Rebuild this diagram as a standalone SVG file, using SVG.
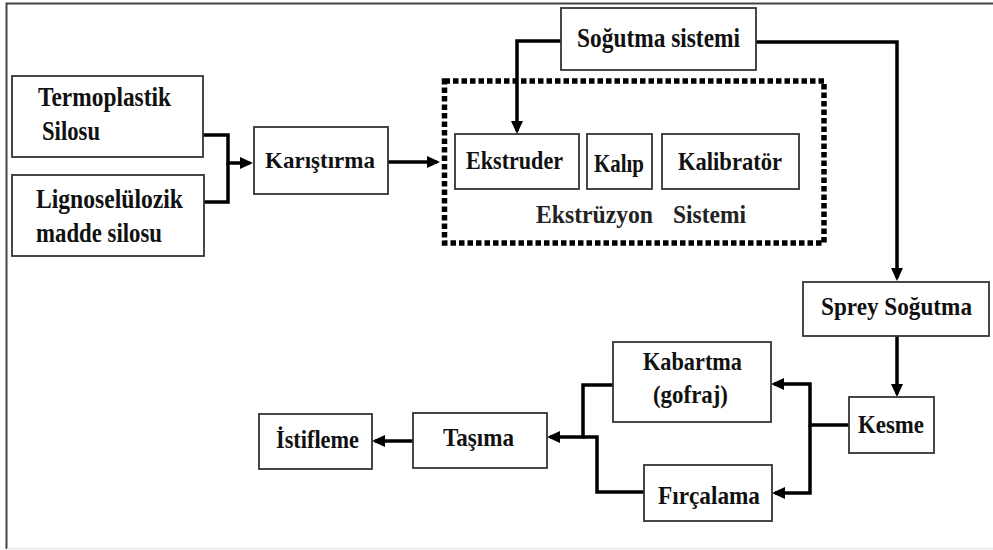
<svg xmlns="http://www.w3.org/2000/svg" width="993" height="550" viewBox="0 0 993 550">
<defs>
<style>
.box{fill:#fff;stroke:#333;stroke-width:1.8}
.t{font-family:"Liberation Serif","Times New Roman",serif;font-weight:bold;fill:#111;font-size:26px}
.c{fill:none;stroke:#000;stroke-width:3.5}
.a{marker-end:url(#ah)}
</style>
<marker id="ah" viewBox="0 0 13 12" refX="10" refY="6" markerWidth="13" markerHeight="12" markerUnits="userSpaceOnUse" orient="auto">
<path d="M0,0 L13,6 L0,12 z" fill="#000"/>
</marker>
</defs>
<rect x="0" y="0" width="993" height="550" fill="#fff"/>
<g id="frame">
<path d="M6.5,549 V3.5 H993" fill="none" stroke="#444" stroke-width="2"/>
<path d="M7,548.5 H993" fill="none" stroke="#e4e4e4" stroke-width="1.5"/>
</g>
<g id="connectors">
<path class="c a" d="M203,135 H228 V163 H250"/>
<path class="c" d="M204,202 H228 V163"/>
<path class="c a" d="M388,162 H437"/>
<path class="c a" d="M561,41 H517 V131"/>
<path class="c a" d="M756,42 H897 V278"/>
<path class="c a" d="M897,336 V394"/>
<path class="c a" d="M849,425 H810 V384 H774"/>
<path class="c a" d="M810,425 V493 H775"/>
<path class="c a" d="M613,385 H583 V437 H550"/>
<path class="c" d="M644,492 H597 V437 H583"/>
<path class="c a" d="M413,441 H375"/>
</g>
<g id="ekstruzyon-sistemi">
<rect x="444.5" y="81" width="379.5" height="162" fill="none" stroke="#000" stroke-width="5.5" stroke-dasharray="5.5 3"/>
<text class="t" y="223" style="fill:#222"><tspan x="536" textLength="117" lengthAdjust="spacingAndGlyphs">Ekstrüzyon</tspan><tspan x="673" textLength="73" lengthAdjust="spacingAndGlyphs">Sistemi</tspan></text>
</g>
<g id="termoplastik">
<rect class="box" x="12" y="76" width="191" height="81"/>
<text class="t" style="font-size:28px" x="38" y="106" textLength="133" lengthAdjust="spacingAndGlyphs">Termoplastik</text>
<text class="t" style="font-size:28px" x="42" y="140" textLength="58" lengthAdjust="spacingAndGlyphs">Silosu</text>
</g>
<g id="lignoselulozik">
<rect class="box" x="12" y="175" width="192" height="81"/>
<text class="t" style="font-size:27px" x="36" y="208" textLength="147" lengthAdjust="spacingAndGlyphs">Lignoselülozik</text>
<text class="t" style="font-size:27px" x="36" y="242" textLength="126" lengthAdjust="spacingAndGlyphs">madde silosu</text>
</g>
<g id="karistirma">
<rect class="box" x="254" y="127" width="134" height="67"/>
<text class="t" style="font-size:23px" x="265" y="168" textLength="110" lengthAdjust="spacingAndGlyphs">Karıştırma</text>
</g>
<g id="sogutma-sistemi">
<rect class="box" x="561" y="8" width="195" height="62"/>
<text class="t" style="font-size:28px" x="577" y="47" textLength="163" lengthAdjust="spacingAndGlyphs">Soğutma sistemi</text>
</g>
<g id="ekstruder">
<rect class="box" x="455" y="134" width="124" height="55"/>
<text class="t" x="466" y="169" textLength="97" lengthAdjust="spacingAndGlyphs">Ekstruder</text>
</g>
<g id="kalip">
<rect class="box" x="587" y="134" width="65" height="55"/>
<text class="t" x="594" y="172" textLength="50" lengthAdjust="spacingAndGlyphs">Kalıp</text>
</g>
<g id="kalibrator">
<rect class="box" x="662" y="134" width="137" height="55"/>
<text class="t" x="678" y="170" textLength="104" lengthAdjust="spacingAndGlyphs">Kalibratör</text>
</g>
<g id="sprey-sogutma">
<rect class="box" x="803" y="282" width="186" height="54"/>
<text class="t" x="821" y="315" textLength="151" lengthAdjust="spacingAndGlyphs">Sprey Soğutma</text>
</g>
<g id="kesme">
<rect class="box" x="849" y="397" width="85" height="56"/>
<text class="t" x="858" y="433" textLength="66" lengthAdjust="spacingAndGlyphs">Kesme</text>
</g>
<g id="kabartma">
<rect class="box" x="613" y="342" width="158" height="80"/>
<text class="t" x="643" y="370" textLength="99" lengthAdjust="spacingAndGlyphs">Kabartma</text>
<text class="t" x="653" y="403" textLength="75" lengthAdjust="spacingAndGlyphs">(gofraj)</text>
</g>
<g id="fircalama">
<rect class="box" x="644" y="465" width="128" height="56"/>
<text class="t" x="658" y="504" textLength="102" lengthAdjust="spacingAndGlyphs">Fırçalama</text>
</g>
<g id="tasima">
<rect class="box" x="413" y="413" width="134" height="55"/>
<text class="t" x="443" y="446" textLength="71" lengthAdjust="spacingAndGlyphs">Taşıma</text>
</g>
<g id="istifleme">
<rect class="box" x="259" y="414" width="113" height="55"/>
<text class="t" x="276" y="448" textLength="83" lengthAdjust="spacingAndGlyphs">İstifleme</text>
</g>
</svg>
